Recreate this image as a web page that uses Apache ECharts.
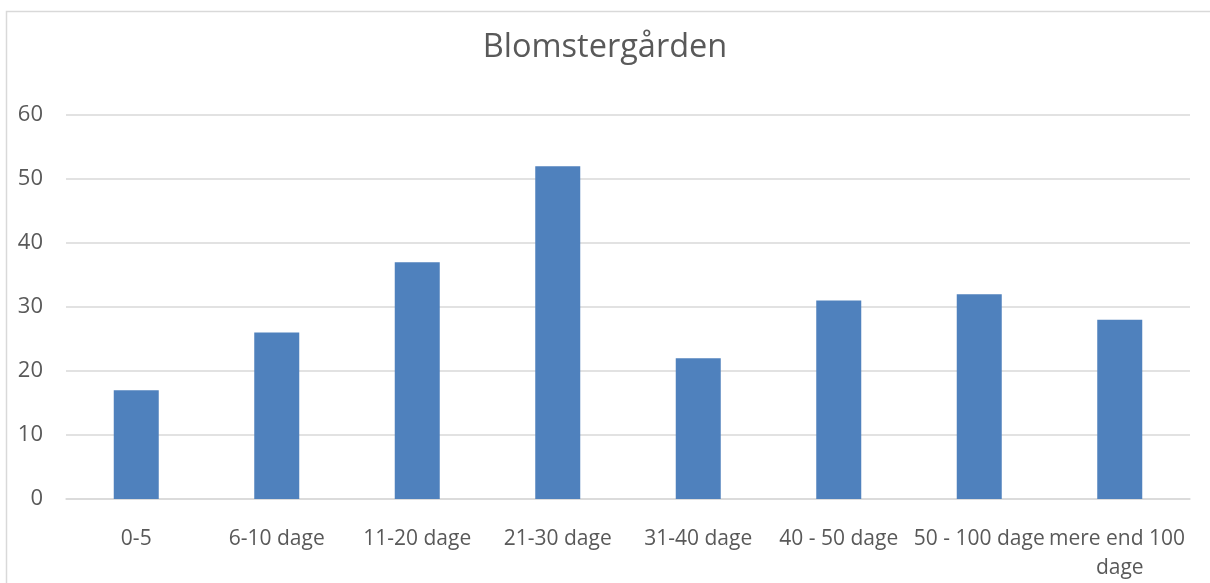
<!DOCTYPE html>
<html>
<head>
<meta charset="utf-8">
<script src="https://cdn.jsdelivr.net/npm/echarts@6/dist/echarts.min.js"></script>
<style>html,body{margin:0;padding:0;background:#fff}#c{width:1210px;height:583px}</style>
</head>
<body>
<div id="c"></div>
<script>
const categories = ['0-5', '6-10 dage', '11-20 dage', '21-30 dage', '31-40 dage', '40 - 50 dage', '50 - 100 dage', 'mere end 100 dage'];
const values = [17, 26, 37, 52, 22, 31, 32, 28];
const titleText = 'Blomstergården';

const chart = echarts.init(document.getElementById('c'));
const font = 'Open Sans';
chart.setOption({
  animation: false,
  graphic: [{
    type: 'rect', shape: {x: 6.5, y: 11.5, width: 1220, height: 600},
    style: {fill: 'none', stroke: '#d9d9d9', lineWidth: 1.5}, silent: true
  }],
  title: {
    text: titleText, left: 'center', top: 26,
    textStyle: {fontFamily: font, fontSize: 32.5, fontWeight: 'normal', color: '#595959'}
  },
  grid: {left: 66, right: 20, top: 115, bottom: 84, containLabel: false},
  xAxis: {
    type: 'category', data: categories,
    axisLine: {show: true, lineStyle: {color: '#d9d9d9', width: 1.5}},
    axisTick: {show: false},
    axisLabel: {
      interval: 0, color: '#595959', fontFamily: font, fontSize: 21, margin: 26,
      width: 150, overflow: 'break', lineHeight: 29
    }
  },
  yAxis: {
    type: 'value', min: 0, max: 60, interval: 10,
    axisLine: {show: false}, axisTick: {show: false},
    axisLabel: {color: '#595959', fontFamily: font, fontSize: 22, margin: 23},
    splitLine: {lineStyle: {color: '#d9d9d9', width: 1.5}}
  },
  series: [{
    type: 'bar', data: values, barWidth: 45,
    itemStyle: {color: '#4f81bd'}
  }]
});
</script>
</body>
</html>
